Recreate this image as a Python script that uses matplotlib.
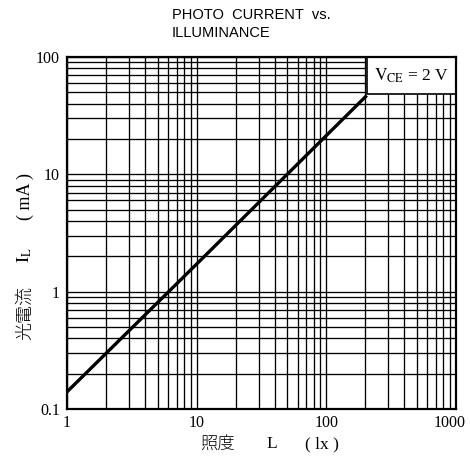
import matplotlib
matplotlib.use("Agg")
import matplotlib.pyplot as plt
import matplotlib.transforms as mtransforms
from matplotlib.patches import Rectangle
from matplotlib.ticker import LogLocator, NullFormatter

plt.rcParams['mathtext.fontset'] = 'stix'

# values (log-log straight line)
illuminance = [1, 10, 205]        # lx
photo_current = [0.14, 1.72, 47]  # mA

x_ticks = [1, 10, 100, 1000]
x_tick_labels = ['1', '10', '100', '1000']
y_ticks = [0.1, 1, 10, 100]
y_tick_labels = ['0.1', '1', '10', '100']

W, H = 470, 457
fig = plt.figure(figsize=(W / 100, H / 100), dpi=100)
left, right, top, bottom = 67, 456, 57, 409
ax = fig.add_axes([left / W, 1 - bottom / H, (right - left) / W, (bottom - top) / H])

ax.set_xscale('log')
ax.set_yscale('log')
ax.set_xlim(1, 1000)
ax.set_ylim(0.1, 100)

ax.plot(illuminance, photo_current, color='black', lw=2.4,
        solid_capstyle='butt', zorder=4)

ax.set_xticks(x_ticks)
ax.set_xticklabels(x_tick_labels)
ax.set_yticks(y_ticks)
ax.set_yticklabels(y_tick_labels)
for axis in (ax.xaxis, ax.yaxis):
    axis.set_minor_locator(LogLocator(base=10, subs=range(2, 10)))
    axis.set_minor_formatter(NullFormatter())

ax.grid(True, which='both', color='black', lw=0.95)
ax.tick_params(which='both', length=0)
ax.tick_params(axis='x', pad=4)
ax.tick_params(axis='y', pad=5)
for lab in ax.get_xticklabels() + ax.get_yticklabels():
    lab.set_fontfamily('Liberation Serif')
    lab.set_fontsize(11.5)
# last x label sits against the right edge in the reference
last = ax.get_xticklabels()[-1]
last.set_transform(last.get_transform() +
                   mtransforms.ScaledTranslation(-6 / 100, 0, fig.dpi_scale_trans))
for sp in ax.spines.values():
    sp.set_linewidth(1.6)
    sp.set_zorder(5)

# V_CE box in the upper right corner
ax.add_patch(Rectangle((0.77, 0.895), 0.23, 0.105, transform=ax.transAxes,
                       facecolor='white', edgecolor='black', lw=1.2, zorder=4.5))
ax.text(0.885, 0.947, r'$\mathrm{V_{CE}}$ = 2 V', transform=ax.transAxes,
        ha='center', va='center', fontsize=12.5, family='Liberation Serif', zorder=6)

# title
fig.text(172 / W, 1 - 15 / H, 'PHOTO  CURRENT  vs.', ha='left', va='center',
         fontsize=10.5, family='Liberation Sans')
fig.text(172 / W, 1 - 33 / H, 'ILLUMINANCE', ha='left', va='center',
         fontsize=10.5, family='Liberation Sans')

# x label
fig.text(218 / W, 1 - 444 / H, '照度', ha='center', va='center',
         fontsize=12.5, family='Noto Sans CJK JP', weight='light')
fig.text(272 / W, 1 - 444 / H, 'L', ha='center', va='center',
         fontsize=12.5, family='Liberation Serif')
fig.text(322 / W, 1 - 444 / H, '( lx )', ha='center', va='center',
         fontsize=12.5, family='Liberation Serif')

# y label
fig.text(25 / W, 1 - 313 / H, '光電流', ha='center', va='center', rotation=90,
         fontsize=13, family='Noto Sans CJK JP', weight='light')
fig.text(25 / W, 1 - 255 / H, r'$\mathrm{I_L}$', ha='center', va='center',
         rotation=90, fontsize=13)
fig.text(25 / W, 1 - 197 / H, '( mA )', ha='center', va='center', rotation=90,
         fontsize=13, family='Liberation Serif')

fig.savefig('out.png', dpi=100)
